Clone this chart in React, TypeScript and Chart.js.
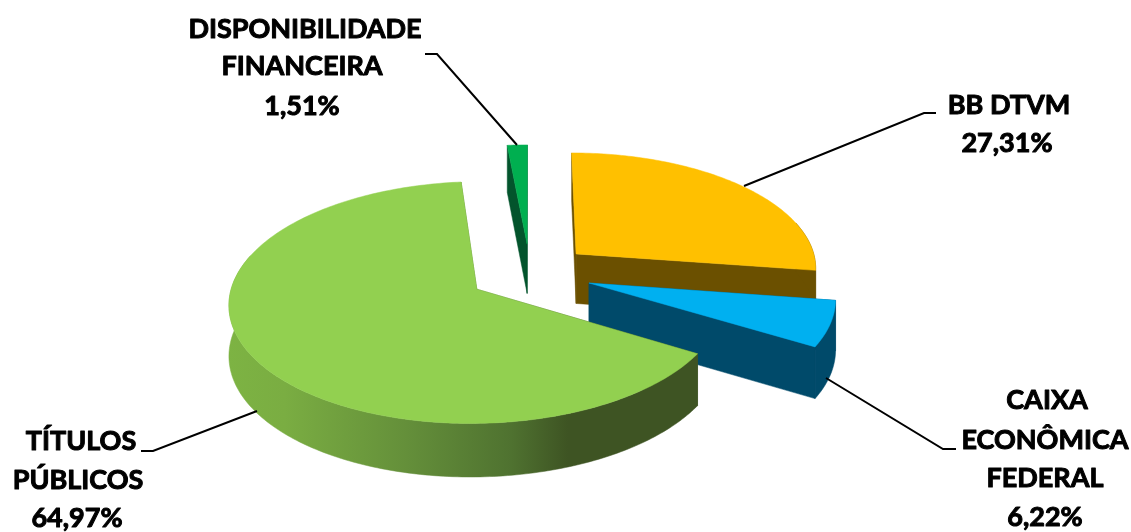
import React, { useEffect, useRef } from "react";
import { Chart, registerables } from "chart.js";

Chart.register(...registerables);

const categories = ["BB DTVM", "CAIXA ECONÔMICA FEDERAL", "TÍTULOS PÚBLICOS", "DISPONIBILIDADE FINANCEIRA"];
const values = [27.31, 6.22, 64.97, 1.51];
const topColors = ["#FFC000", "#00B0F0", "#92D050", "#00AF50"];
const wallColors = ["#6B5000", "#004A6A", "#3E5423", "#03542C"];
const drawOrder = [3, 0, 1, 2];

const labelLines = [
  { lines: ["DISPONIBILIDADE", "FINANCEIRA", "1,51%"], xs: [305, 302, 302], ys: [29, 66, 106] },
  { lines: ["BB DTVM", "27,31%"], xs: [1009, 1007], ys: [105, 143] },
  { lines: ["CAIXA", "ECONÔMICA", "FEDERAL", "6,22%"], xs: [1047, 1045, 1045, 1045], ys: [400, 440, 478, 517] },
  { lines: ["TÍTULOS", "PÚBLICOS", "64,97%"], xs: [81, 78, 77], ys: [441, 480, 518] },
];
const leaders = [
  [[425, 54], [437, 54], [517, 145]],
  [[936, 113], [924, 113], [744, 186]],
  [[956, 449], [943, 449], [826, 378]],
  [[141, 451], [153, 451], [257, 411]],
];

const PERSPECTIVE = 0.00045;
const TILT = 0.479;
const DEPTH = 50;

function project(cx: number, cy: number, u: number, v: number, h: number) {
  const s = 1 / (1 - PERSPECTIVE * v);
  return [cx + u * s, cy + TILT * v * s + h * (0.5 + 0.5 * s)];
}

const pie3d = {
  id: "pie3d",
  beforeDatasetDraw(chart: any) {
    const ctx = chart.ctx;
    const arcs = chart.getDatasetMeta(0).data;
    for (const i of drawOrder) {
      const el = arcs[i];
      const { x, y, startAngle, endAngle, outerRadius } = el.getProps(["x", "y", "startAngle", "endAngle", "outerRadius"], true);
      const off = el.options.offset / 4;
      const mid = (startAngle + endAngle) / 2;
      const ou = Math.cos(mid) * off;
      const ov = Math.sin(mid) * off;
      const pt = (a: number, r: number, h: number) =>
        project(x, y, ou + Math.cos(a) * r, ov + Math.sin(a) * r, h);
      const steps = Math.max(4, Math.ceil((endAngle - startAngle) * 60));
      const angles: number[] = [];
      for (let k = 0; k <= steps; k++) angles.push(startAngle + ((endAngle - startAngle) * k) / steps);

      const poly = (pts: number[][], fill: any) => {
        ctx.beginPath();
        pts.forEach((p, n) => (n ? ctx.lineTo(p[0], p[1]) : ctx.moveTo(p[0], p[1])));
        ctx.closePath();
        ctx.fillStyle = fill;
        ctx.fill();
        ctx.strokeStyle = fill;
        ctx.lineWidth = 0.5;
        ctx.stroke();
      };

      let wall: any = wallColors[i];
      if (i === 2) {
        const g = ctx.createLinearGradient(228, 0, 700, 0);
        g.addColorStop(0, "#7DB343");
        g.addColorStop(0.12, "#7AAD42");
        g.addColorStop(0.38, "#648F3A");
        g.addColorStop(0.6, "#4F7230");
        g.addColorStop(0.72, "#3E5423");
        g.addColorStop(1, "#3E5423");
        wall = g;
      }
      // radial walls
      poly([pt(0, 0, 0), pt(startAngle, outerRadius, 0), pt(startAngle, outerRadius, DEPTH), pt(0, 0, DEPTH)], wall);
      poly([pt(0, 0, 0), pt(endAngle, outerRadius, 0), pt(endAngle, outerRadius, DEPTH), pt(0, 0, DEPTH)], wall);
      // rim, front-facing part plus the silhouette shoulders
      const rim = angles.filter((a) => Math.sin(a) > -0.3);
      if (rim.length > 1) {
        poly(
          [...rim.map((a) => pt(a, outerRadius, 0)), ...rim.slice().reverse().map((a) => pt(a, outerRadius, DEPTH))],
          wall
        );
      }
      // top face
      poly([pt(0, 0, 0), ...angles.map((a) => pt(a, outerRadius, 0))], topColors[i]);
    }
    return false;
  },
  afterDraw(chart: any) {
    const ctx = chart.ctx;
    ctx.save();
    ctx.strokeStyle = "#000";
    ctx.lineWidth = 2;
    for (const l of leaders) {
      ctx.beginPath();
      l.forEach((p, n) => (n ? ctx.lineTo(p[0], p[1]) : ctx.moveTo(p[0], p[1])));
      ctx.stroke();
    }
    ctx.fillStyle = "#000";
    ctx.font = "bold 27px Lato";
    ctx.textAlign = "center";
    ctx.textBaseline = "middle";
    ctx.lineWidth = 1;
    ctx.lineJoin = "round";
    for (const b of labelLines) {
      b.lines.forEach((t, n) => {
        ctx.fillText(t, b.xs[n], b.ys[n]);
        ctx.strokeText(t, b.xs[n], b.ys[n]);
      });
    }
    ctx.restore();
  },
};

export default function App() {
  const ref = useRef<HTMLCanvasElement>(null);
  useEffect(() => {
    document.body.style.margin = "0";
    const chart = new Chart(ref.current as HTMLCanvasElement, {
      type: "pie",
      data: {
        labels: categories,
        datasets: [
          {
            data: values,
            backgroundColor: topColors,
            borderWidth: 0,
            offset: 248,
            radius: 242,
          } as any,
        ],
      },
      options: {
        responsive: false,
        animation: false,
        layout: { padding: { right: 71, top: 14 } },
        plugins: { legend: { display: false }, tooltip: { enabled: false } },
      },
      plugins: [pie3d],
    });
    return () => chart.destroy();
  }, []);
  return <canvas ref={ref} width={1131} height={532} style={{ display: "block" }} />;
}
